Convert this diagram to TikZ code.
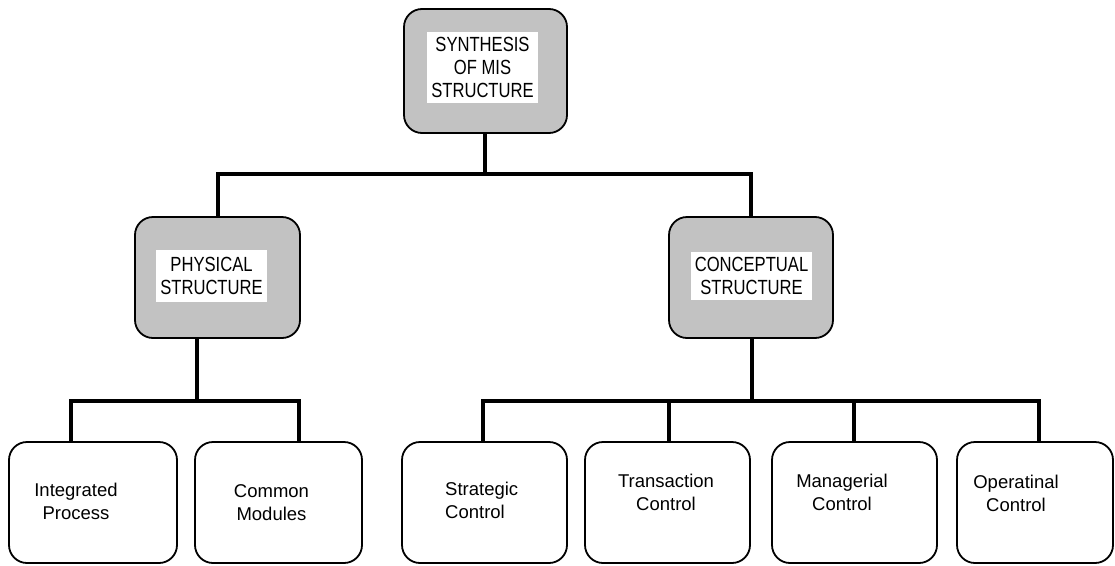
\documentclass[tikz,border=0pt]{standalone}
\usepackage{fontspec}
\setmainfont{Liberation Sans}
\newfontfamily\headfont[FakeStretch=0.81]{Liberation Sans}
\definecolor{boxgray}{RGB}{194,194,194}
\tikzset{
  box/.style={draw=black, line width=1.8, rounded corners=18, inner sep=0},
  headbox/.style={box, fill=boxgray},
  leafbox/.style={box, fill=white, minimum height=121},
  headlabel/.style={fill=white, inner sep=0, align=center,
    font=\headfont\fontsize{20.5}{23}\selectfont},
  leaflabel/.style={inner sep=0, align=center,
    font=\fontsize{18.5}{23}\selectfont},
  bus/.style={line width=4, line join=miter, line cap=rect}
}
\begin{document}
\begin{tikzpicture}[x=1pt, y=-1pt]
\useasboundingbox (0,0) rectangle (1115,565);

% upper level boxes
\node[headbox, minimum width=163, minimum height=124] (top)  at (485.5,71) {};
\node[headbox, minimum width=165, minimum height=121] (phys) at (217.5,277.5) {};
\node[headbox, minimum width=164, minimum height=121] (conc) at (751,277.5) {};

\node[headlabel, minimum width=111, minimum height=71] (toplbl) at (482.5,67.5)
  {SYNTHESIS\\OF MIS\\STRUCTURE};
\node[headlabel, minimum width=111, minimum height=52] (physlbl) at (211.5,276)
  {PHYSICAL\\STRUCTURE};
\node[headlabel, minimum width=121, minimum height=48] (conclbl) at (751.5,276)
  {CONCEPTUAL\\STRUCTURE};

% leaf boxes
\node[leafbox, minimum width=168] (int) at (93,502.5) {};
\node[leafbox, minimum width=167] (com) at (278.5,502.5) {};
\node[leafbox, minimum width=165] (str) at (484.5,502.5) {};
\node[leafbox, minimum width=165] (tra) at (667.5,502.5) {};
\node[leafbox, minimum width=165] (man) at (854.5,502.5) {};
\node[leafbox, minimum width=156] (ope) at (1035,502.5) {};

\node[leaflabel] (intlbl) at (76,501.5) {Integrated\\Process};
\node[leaflabel] (comlbl) at (271.5,502.5) {Common\\Modules};
\node[leaflabel, align=left, anchor=west] (strlbl) at (445,500) {Strategic\\Control};
\node[leaflabel] (tralbl) at (666,492) {Transaction\\Control};
\node[leaflabel] (manlbl) at (842,492) {Managerial\\Control};
\node[leaflabel] (opelbl) at (1016,493.5) {Operatinal\\Control};

% connector junctions
\coordinate (j1) at (485,174);
\coordinate (j2) at (197,401);
\coordinate (j3) at (752,401);

% top level bus
\draw[bus] (top.south -| j1) -- (j1);
\draw[bus] (phys.north) |- (j1) -| (conc.north);

% physical structure bus
\draw[bus] (phys.south -| j2) -- (j2);
\draw[bus] ([xshift=63]int.north west) |- (j2) -| ([xshift=105]com.north west);

% conceptual structure bus
\draw[bus] (conc.south -| j3) -- (j3);
\draw[bus] ([xshift=82]str.north west) |- (j3) -| ([xshift=83]ope.north west);
\draw[bus] ([xshift=85]tra.north west) -- ([xshift=85]tra.north west |- j3);
\draw[bus] ([xshift=83]man.north west) -- ([xshift=83]man.north west |- j3);
\end{tikzpicture}
\end{document}
